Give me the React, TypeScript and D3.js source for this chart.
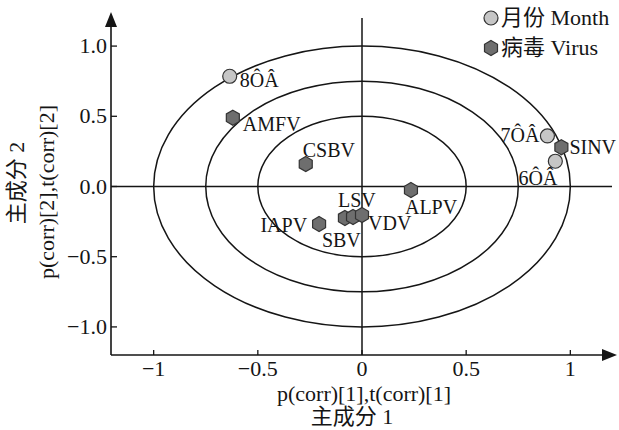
import * as React from 'react';
import * as d3 from 'd3';

// month scores
const monthNames = ['8ÔÂ', '7ÔÂ', '6ÔÂ'];
const monthX = [-0.635, 0.89, 0.928];
const monthY = [0.785, 0.36, 0.18];

// virus loadings
const virusNames = ['AMFV', 'CSBV', 'SINV', 'ALPV', 'IAPV', 'SBV', 'LSV', 'VDV'];
const virusX = [-0.62, -0.27, 0.957, 0.235, -0.206, -0.082, -0.043, 0.0];
const virusY = [0.49, 0.16, 0.28, -0.025, -0.267, -0.224, -0.217, -0.203];

const xTicks = [-1, -0.5, 0, 0.5, 1];
const yTicks = [-1, -0.5, 0, 0.5, 1];
const ellipseRadii = [1, 0.75, 0.5];

const legendItems = ['月份 Month', '病毒 Virus'];

// label placement relative to the point: [dx, dy, anchor]
const labelPos: Record<string, [number, number, string]> = {
  '8ÔÂ': [10, 11, 'start'],
  '7ÔÂ': [-8, 6, 'end'],
  '6ÔÂ': [2, 24, 'end'],
  AMFV: [10, 13, 'start'],
  CSBV: [-3, -7, 'start'],
  SINV: [8, 7, 'start'],
  ALPV: [-6, 24, 'start'],
  IAPV: [-12, 8, 'end'],
  SBV: [-23, 29, 'start'],
  LSV: [-15, -10, 'start'],
  VDV: [6, 15, 'start'],
};

const W = 619;
const H = 430;
const font = '"Liberation Serif", "Times New Roman", "Noto Sans CJK SC", serif';
const ink = '#151515';

const x = d3.scaleLinear().domain([-1.2, 1.2]).range([112, 612]);
const y = d3.scaleLinear().domain([-1.2, 1.2]).range([355, 18]);

const hexagon = (r: number) =>
  d3.line().curve(d3.curveLinearClosed)(
    d3.range(6).map(i => {
      const a = ((60 * i - 90) * Math.PI) / 180;
      return [r * Math.cos(a), r * Math.sin(a)] as [number, number];
    })
  ) as string;

export default function App() {
  const x0 = x(0);
  const y0 = y(0);
  const left = x.range()[0] - 1;
  const bottom = y.range()[0];
  const fmtX = d3.format('');
  const fmtY = d3.format('.1f');

  return (
    <svg
      width={W}
      height={H}
      style={{ position: 'absolute', left: 0, top: 0, background: '#fff' }}
      fontFamily={font}
    >
      {/* confidence ellipses */}
      {ellipseRadii.map(r => (
        <ellipse
          key={r}
          cx={x0}
          cy={y0}
          rx={x(r) - x0}
          ry={y0 - y(r)}
          fill="none"
          stroke={ink}
          strokeWidth={1.5}
        />
      ))}

      {/* zero lines */}
      <line x1={left} x2={x(1.2)} y1={y0} y2={y0} stroke={ink} strokeWidth={1.5} />
      <line x1={x0} x2={x0} y1={y(1.2)} y2={bottom} stroke={ink} strokeWidth={1.5} />

      {/* axes with arrows */}
      <line x1={left} x2={606} y1={bottom} y2={bottom} stroke={ink} strokeWidth={1.6} />
      <path d={`M617,${bottom}L602,${bottom - 6}L602,${bottom + 6}Z`} fill={ink} />
      <line x1={left} x2={left} y1={bottom} y2={22} stroke={ink} strokeWidth={1.6} />
      <path d={`M${left},12L${left - 6},27L${left + 6},27Z`} fill={ink} />

      {xTicks.map(t => (
        <g key={'x' + t}>
          <line x1={x(t)} x2={x(t)} y1={bottom} y2={bottom - 5} stroke={ink} strokeWidth={1.3} />
          <text x={x(t)} y={bottom + 21} textAnchor="middle" fontSize={22} fill={ink}>
            {fmtX(t)}
          </text>
        </g>
      ))}
      {yTicks.map(t => (
        <g key={'y' + t}>
          <line x1={left} x2={left + 6} y1={y(t)} y2={y(t)} stroke={ink} strokeWidth={1.3} />
          <text x={left - 4} y={y(t) + 7} textAnchor="end" fontSize={22} fill={ink}>
            {fmtY(t)}
          </text>
        </g>
      ))}

      {/* axis titles */}
      <text x={364} y={401} textAnchor="middle" fontSize={22} fill={ink}>
        p(corr)[1],t(corr)[1]
      </text>
      <text x={352} y={424} textAnchor="middle" fontSize={22} fill={ink}>
        主成分 1
      </text>
      <text
        transform={`translate(54,192) rotate(-90)`}
        textAnchor="middle"
        fontSize={22}
        fill={ink}
      >
        p(corr)[2],t(corr)[2]
      </text>
      <text
        transform={`translate(24,183) rotate(-90)`}
        textAnchor="middle"
        fontSize={22}
        fill={ink}
      >
        主成分 2
      </text>

      {/* virus points */}
      {virusNames.map((n, i) => (
        <path
          key={n}
          d={hexagon(7.5)}
          transform={`translate(${x(virusX[i])},${y(virusY[i])})`}
          fill="#6e6e6e"
          stroke="#333"
          strokeWidth={1.2}
        />
      ))}
      {/* month points */}
      {monthNames.map((n, i) => (
        <circle
          key={n}
          cx={x(monthX[i])}
          cy={y(monthY[i])}
          r={7}
          fill="#c6c6c6"
          stroke="#333"
          strokeWidth={1.2}
        />
      ))}

      {/* point labels */}
      {[
        ...monthNames.map((n, i) => ({ n, px: x(monthX[i]), py: y(monthY[i]) })),
        ...virusNames.map((n, i) => ({ n, px: x(virusX[i]), py: y(virusY[i]) })),
      ].map(d => {
        const [dx, dy, anchor] = labelPos[d.n];
        return (
          <text
            key={'l' + d.n}
            x={d.px + dx}
            y={d.py + dy}
            textAnchor={anchor}
            fontSize={20}
            fill={ink}
          >
            {d.n}
          </text>
        );
      })}

      {/* legend */}
      <circle cx={491} cy={18} r={7} fill="#c6c6c6" stroke="#333" strokeWidth={1.2} />
      <path d={hexagon(7.5)} transform="translate(491,48)" fill="#6e6e6e" stroke="#333" strokeWidth={1.2} />
      {legendItems.map((t, i) => (
        <text key={t} x={501} y={25 + i * 30} fontSize={22} fill={ink}>
          {t}
        </text>
      ))}
    </svg>
  );
}
